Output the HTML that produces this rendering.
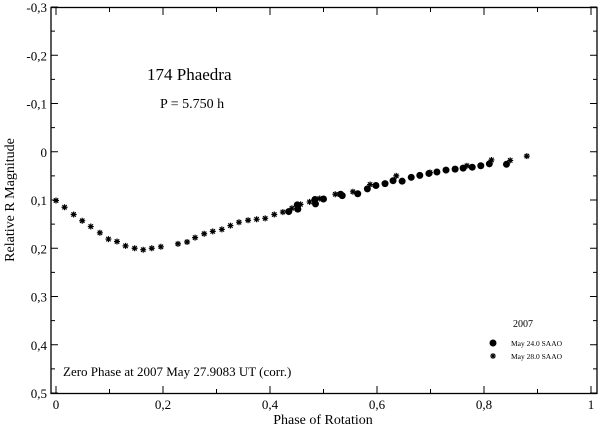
<!DOCTYPE html>
<html><head><meta charset="utf-8"><style>
html,body{margin:0;padding:0;background:#fff;}
svg{display:block;font-family:"Liberation Serif",serif;}
</style></head><body>
<svg id="chart" width="600" height="427" viewBox="0 0 600 427">
<rect x="51" y="7.5" width="546" height="386" fill="none" stroke="#000" stroke-width="1.3"/>
<g id="ticks"></g>
<g id="marks"></g>
<text x="147" y="80" font-size="17">174 Phaedra</text>
<text x="160" y="108" font-size="14">P = 5.750 h</text>
<text x="63" y="376" font-size="13">Zero Phase at 2007 May 27.9083 UT (corr.)</text>
<text x="323" y="424" font-size="14" text-anchor="middle">Phase of Rotation</text>
<text transform="translate(14,200) rotate(-90)" font-size="14" text-anchor="middle">Relative R Magnitude</text>
<g>
<text x="513" y="327" font-size="10">2007</text>
<circle cx="493" cy="343" r="3.5" fill="#000"/>
<text x="511" y="346" font-size="7.5">May 24.0 SAAO</text>
<path d="M490,356h6M493,353v6M490.9,353.9l4.2,4.2M490.9,358.1l4.2,-4.2" stroke="#000" stroke-width="1.1"/>
<text x="511" y="359" font-size="7.5">May 28.0 SAAO</text>
</g>
</svg>
<script>
const yTicks=[-0.3,-0.2,-0.1,0,0.1,0.2,0.3,0.4,0.5];
const yTickLabels=["-0,3","-0,2","-0,1","0","0,1","0,2","0,3","0,4","0,5"];
const xTicks=[0,0.2,0.4,0.6,0.8,1];
const xTickLabels=["0","0,2","0,4","0,6","0,8","1"];
const starPhase=[0,0.016,0.033,0.049,0.065,0.082,0.098,0.114,0.130,0.147,0.163,0.179,0.196,0.228,0.245,0.260,0.277,0.293,0.310,0.326,0.342,0.359,0.375,0.391,0.408,0.424,0.441,0.457,0.474,0.493,0.522,0.555,0.587,0.636,0.699,0.768,0.814,0.849,0.880];
const starMag=[0.101,0.115,0.130,0.143,0.155,0.168,0.181,0.186,0.195,0.200,0.203,0.200,0.197,0.191,0.187,0.178,0.170,0.165,0.161,0.153,0.146,0.142,0.140,0.138,0.130,0.125,0.117,0.109,0.104,0.097,0.088,0.083,0.068,0.050,0.043,0.029,0.017,0.018,0.009];
const dotPhase=[0.435,0.451,0.452,0.484,0.485,0.500,0.532,0.535,0.564,0.582,0.598,0.615,0.630,0.647,0.664,0.680,0.697,0.712,0.729,0.746,0.761,0.778,0.794,0.810,0.842];
const dotMag=[0.124,0.110,0.119,0.099,0.108,0.098,0.088,0.091,0.087,0.077,0.070,0.066,0.060,0.061,0.053,0.049,0.045,0.042,0.038,0.036,0.034,0.032,0.029,0.025,0.026];
const NS="http://www.w3.org/2000/svg";
function xs(p){return 56+p*535;}
function ys(m){return 151.75+m*482.5;}
function mk(tag,attrs,parent){const e=document.createElementNS(NS,tag);for(const k in attrs)e.setAttribute(k,attrs[k]);parent.appendChild(e);return e;}
const tg=document.getElementById('ticks');
for(let i=0;i<yTicks.length;i++){
  const y=ys(yTicks[i]);
  const t=mk('line',{x1:51,x2:58,y1:y,y2:y,stroke:'#000'},tg);
  
  
  const t2=mk('line',{x1:590,x2:597,y1:y,y2:y,stroke:'#000'},tg);
  
  
  const l=mk('text',{x:47,y:y+5,'font-size':13,'text-anchor':'end'},tg);
  l.textContent=yTickLabels[i];
  
  
  if(i<yTicks.length-1){
    const ym=ys(yTicks[i]+0.05);
    const m=mk('line',{x1:51,x2:55,y1:ym,y2:ym,stroke:'#000'},tg);
    
    
    const m2=mk('line',{x1:593,x2:597,y1:ym,y2:ym,stroke:'#000'},tg);
    
    
  }
}
for(let i=0;i<xTicks.length;i++){
  const x=xs(xTicks[i]);
  const t=mk('line',{x1:x,x2:x,y1:393,y2:386,stroke:'#000'},tg);
  
  
  const t2=mk('line',{x1:x,x2:x,y1:8,y2:15,stroke:'#000'},tg);
  
  
  const l=mk('text',{x:x,y:409,'font-size':13,'text-anchor':'middle'},tg);
  l.textContent=xTickLabels[i];
  
  
  if(i<xTicks.length-1){
    const xm=xs(xTicks[i]+0.1);
    const m=mk('line',{x1:xm,x2:xm,y1:393,y2:389,stroke:'#000'},tg);
    
    
    const m2=mk('line',{x1:xm,x2:xm,y1:8,y2:12,stroke:'#000'},tg);
    
    
  }
}
const g=document.getElementById('marks');
for(let i=0;i<dotPhase.length;i++){
  const c=mk('circle',{cx:xs(dotPhase[i]),cy:ys(dotMag[i]),r:3.5,fill:'#000'},g);
  
  
}
for(let i=0;i<starPhase.length;i++){
  const x=xs(starPhase[i]), y=ys(starMag[i]);
  const d=`M${x-3},${y}h6M${x},${y-3}v6M${x-2.2},${y-2.2}l4.4,4.4M${x-2.2},${y+2.2}l4.4,-4.4`;
  const s=mk('path',{d:d,stroke:'#000','stroke-width':1.2},g);
  
  
}
</script>
</body></html>
